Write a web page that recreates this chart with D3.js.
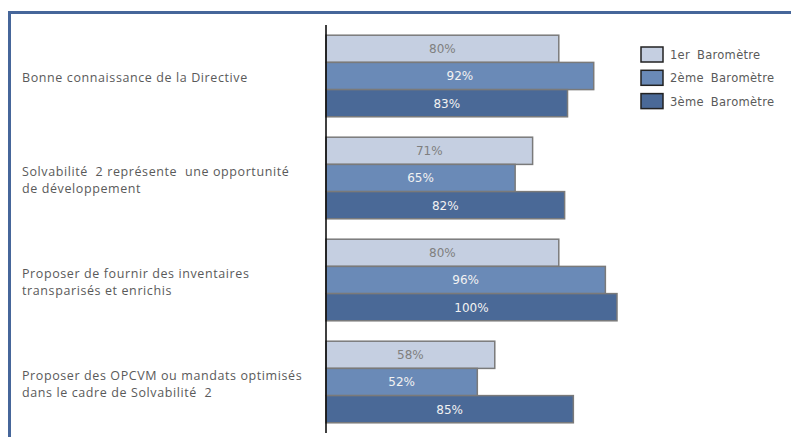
<!DOCTYPE html>
<html>
<head>
<meta charset="utf-8">
<script src="https://cdn.jsdelivr.net/npm/d3@7"></script>
<style>
  body { margin: 0; background: #fff; }
</style>
</head>
<body>
<div id="chart"></div>
<script>
const categories = [
    "Bonne connaissance de la Directive",
    "Solvabilité  2 représente  une opportunité\nde développement",
    "Proposer de fournir des inventaires\ntransparisés et enrichis",
    "Proposer des OPCVM ou mandats optimisés\ndans le cadre de Solvabilité  2"
];
const seriesNames = ["1er Baromètre", "2ème Baromètre", "3ème Baromètre"];
const baro1 = [80, 71, 80, 58];
const baro2 = [92, 65, 96, 52];
const baro3 = [83, 82, 100, 85];

const fills = ["#c5cfe1", "#6a8ab7", "#4a6997"];
const labelColors = ["#7f7f7f", "#f2f2f2", "#f2f2f2"];

const W = 791, H = 437;
const svg = d3.select("#chart").append("svg")
    .attr("width", W)
    .attr("height", H);

// outer frame (only top and left edges visible in the crop)
svg.append("rect")
    .attr("x", 9.5).attr("y", 12.5)
    .attr("width", 900).attr("height", 600)
    .attr("fill", "none")
    .attr("stroke", "#46669a")
    .attr("stroke-width", 3);

const x = d3.scaleLinear().domain([0, 100]).range([326, 617]);
const y = d3.scaleBand().domain(d3.range(categories.length))
    .range([25, 433]).paddingInner(0.2).paddingOuter(0.1);
const ySub = d3.scaleBand().domain(d3.range(seriesNames.length))
    .range([0, y.bandwidth()]);

const series = [baro1, baro2, baro3];

// bars
series.forEach((vals, s) => {
    const g = svg.append("g");
    g.selectAll("rect")
        .data(vals)
        .enter().append("rect")
        .attr("x", x(0))
        .attr("y", (d, i) => y(i) + ySub(s))
        .attr("width", d => x(d) - x(0))
        .attr("height", ySub.bandwidth())
        .attr("fill", fills[s])
        .attr("stroke", "#7a7a7a")
        .attr("stroke-width", 1.5);

    g.selectAll("text")
        .data(vals)
        .enter().append("text")
        .attr("x", d => (x(d) + x(0)) / 2)
        .attr("y", (d, i) => y(i) + ySub(s) + ySub.bandwidth() / 2)
        .attr("dy", "0.36em")
        .attr("text-anchor", "middle")
        .style("font-family", "'DejaVu Sans', Verdana, sans-serif")
        .style("font-size", "12px")
        .style("fill", labelColors[s])
        .text(d => d + "%");
});

// vertical axis line
svg.append("line")
    .attr("x1", x(0)).attr("x2", x(0))
    .attr("y1", 25).attr("y2", 433)
    .attr("stroke", "#000")
    .attr("stroke-width", 1.5);

// category labels
categories.forEach((c, i) => {
    const lines = c.split("\n");
    const lh = 17;
    const cy = y(i) + y.bandwidth() / 2 + 2;
    const t = svg.append("text")
        .attr("x", 22)
        .style("font-family", "'Open Sans', sans-serif")
        .style("font-size", "12.5px")
        .style("letter-spacing", "0.6px")
        .style("fill", "#5a5a5a")
        .style("white-space", "pre");
    lines.forEach((l, k) => {
        t.append("tspan")
            .attr("x", 22)
            .attr("y", cy + (k - (lines.length - 1) / 2) * lh)
            .attr("dy", "0.35em")
            .text(l);
    });
});

// legend
const legend = svg.append("g").attr("transform", "translate(641,47)");
const items = legend.selectAll("g")
    .data(seriesNames)
    .enter().append("g")
    .attr("transform", (d, i) => `translate(0, ${i * 23.3})`);
items.append("rect")
    .attr("width", 22).attr("height", 15)
    .attr("fill", (d, i) => fills[i])
    .attr("stroke", "#222")
    .attr("stroke-width", 1.5);
items.append("text")
    .attr("x", 29).attr("y", 8)
    .attr("dy", "0.35em")
    .style("font-family", "'DejaVu Sans', Verdana, sans-serif")
    .style("font-size", "11.5px")
    .style("letter-spacing", "0.3px")
    .style("word-spacing", "3px")
    .style("fill", "#5a5a5a")
    .text(d => d);
</script>
</body>
</html>
